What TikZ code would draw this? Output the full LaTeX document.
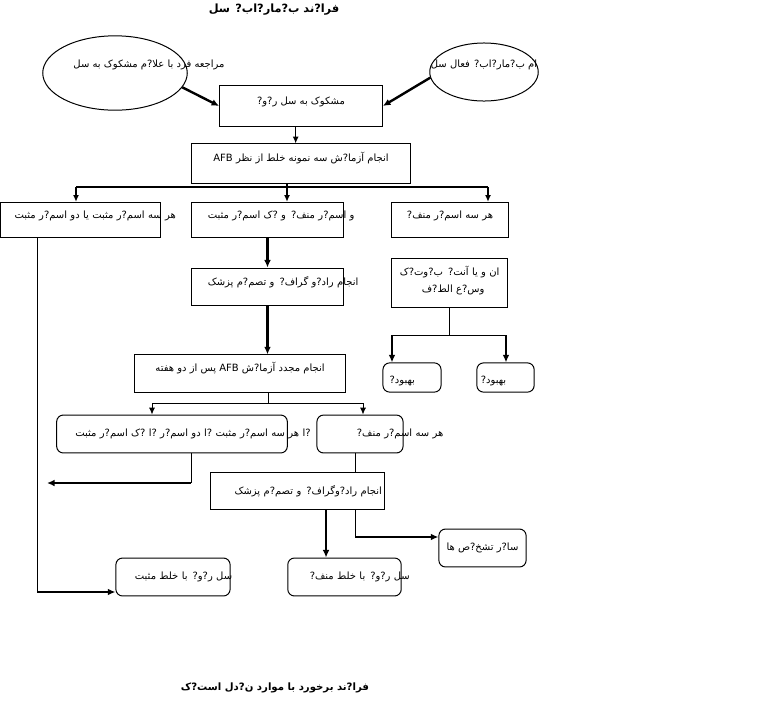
\documentclass[tikz,border=0pt]{standalone}
\usepackage{fontspec}
\usetikzlibrary{arrows.meta, positioning, calc, shapes.geometric}
\newfontfamily\pfont[Script=Arabic]{DejaVu Sans}
\TeXXeTstate=1
\newcommand{\fa}[1]{\mbox{\beginR #1\endR}}
\tikzset{
  box/.style={draw=black, line width=0.75pt, inner xsep=2pt, inner ysep=0pt, align=center, font=\pfont\fontsize{7.5}{9}\selectfont},
  rbox/.style={box, rounded corners=5pt},
  raised/.style={text height=8pt, text depth=11pt},
  oval/.style={draw=black, line width=0.75pt, ellipse, inner sep=0pt},
  ptext/.style={inner sep=0pt, font=\pfont\fontsize{7.5}{9}\selectfont},
  ttext/.style={inner sep=0pt, font=\pfont\bfseries\fontsize{8.5}{10}\selectfont},
  conn/.style={line width=0.75pt},
  fork/.style={line width=1.2pt},
  thinarrow/.style={-{Latex[length=1.8mm, width=1.6mm]}, line width=0.75pt},
  arrow/.style={-{Latex[length=1.8mm, width=1.6mm]}, line width=1.2pt},
  thickarrow/.style={-{Latex[length=2mm, width=1.8mm]}, line width=1.8pt}
}

\begin{document}
\begin{tikzpicture}[x=0.75pt, y=-0.75pt]
\useasboundingbox (0,0) rectangle (778,708);
% titles
\node[ttext] (toptitle) at (274,10) {\fa{فرا?ند ب?مار?اب? سل}};
\node[ttext, font=\pfont\bfseries\fontsize{7.6}{10}\selectfont] (bottomtitle) at (275,688) {\fa{فرا?ند برخورد با موارد ن?دل است?ک}};
% entry points
\node[oval, minimum width=3.81cm, minimum height=1.96cm] (ovalL) at (115,73) {};
\node[ptext] (ovalLtext) at (149,65) {\fa{مراجعه فرد با علا?م مشکوک به سل}};
\node[oval, minimum width=2.86cm, minimum height=1.53cm] (ovalR) at (484,72) {};
\node[ptext] (ovalRtext) at (484,65) {\fa{ام ب?مار?اب? فعال سل}};
\node[box, raised, minimum width=4.29cm, minimum height=1.06cm] (suspect) at (301,106) {\fa{مشکوک به سل ر?و?}};
\node[box, raised, minimum width=5.79cm, minimum height=1.03cm] (smeartest) at (301,163.5) {\fa{انجام آزما?ش سه نمونه خلط از نظر \beginL AFB\endL}};
% first smear results
\node[box, raised, align=left, text width=4.07cm, minimum height=0.93cm] (allpos) at (80.5,220) {\hspace*{8.5pt}\fa{هر سه اسم?ر مثبت یا دو اسم?ر مثبت}};
\node[box, raised, align=left, text width=3.85cm, minimum height=0.93cm] (onepos) at (267.5,220) {\hspace*{10pt}\fa{و اسم?ر منف? و ?ک اسم?ر مثبت}};
\node[box, raised, minimum width=3.07cm, minimum height=0.93cm] (allneg) at (450,220) {\fa{هر سه اسم?ر منف?}};
\node[box, raised, align=left, text width=3.85cm, minimum height=1.0cm] (xray) at (267.5,287) {\hspace*{10pt}\fa{انجام راد?و گراف? و تصم?م پزشک}};
\node[box, align=left, text width=2.9cm, text height=13pt, text depth=23.75pt] (antibio) at (449.5,282.5) {\hspace*{4pt}\fa{ان و یا آنت? ب?وت?ک}\\[3.5pt]\hspace*{20.5pt}\fa{وس?ع الط?ف}};
\node[rbox, align=left, text width=1.39cm, minimum height=0.77cm, text height=14pt, text depth=5pt] (cured1) at (412,377.5) {\hspace*{3pt}\fa{بهبود?}};
\node[rbox, align=left, text width=1.37cm, minimum height=0.77cm, text height=14pt, text depth=5pt] (cured2) at (505.5,377.5) {\hspace*{1pt}\fa{بهبود?}};
% second smear
\node[box, raised, minimum width=5.58cm, minimum height=0.98cm] (retest) at (240,373.5) {\fa{انجام مجدد آزما?ش \beginL AFB\endL{} پس از دو هفته}};
\node[rbox, align=left, text width=5.94cm, minimum height=1.0cm] (posagain) at (172,434) {\hspace*{12pt}\fa{?ا هر سه اسم?ر مثبت ?ا دو اسم?ر ?ا ?ک اسم?ر مثبت}};
\node[rbox, align=left, text width=2.13cm, minimum height=1.0cm] (negagain) at (360,434) {\hspace*{28pt}\fa{هر سه اسم?ر منف?}};
\node[box, align=left, text width=4.44cm, minimum height=1.0cm] (xray2) at (297.5,491) {\hspace*{16pt}\fa{انجام راد?وگراف? و تصم?م پزشک}};
\node[rbox, minimum width=2.3cm, minimum height=1.0cm] (otherdx) at (482.5,548) {\fa{سا?ر تشخ?ص ها}};
\node[rbox, align=left, text width=2.85cm, minimum height=1.0cm] (tbneg) at (344.5,577) {\hspace*{14.5pt}\fa{سل ر?و? با خلط منف?}};
\node[rbox, align=left, text width=2.87cm, minimum height=1.0cm] (tbpos) at (173,577) {\hspace*{12.25pt}\fa{سل ر?و? با خلط مثبت}};

% branch points
\coordinate (splitA) at (287,187);
\coordinate (splitAL) at (76,187);
\coordinate (splitAR) at (488,187);
\coordinate (splitB) at (449,335);
\coordinate (splitBL) at (392,335);
\coordinate (splitBR) at (506,335);
\coordinate (splitC) at (268,403);
\coordinate (splitCL) at (152,403);
\coordinate (splitCR) at (363,403);
\coordinate (downL) at (37,592);
\coordinate (turnD) at (191,483);
\coordinate (backout) at (47,483);
\coordinate (turnE) at (355,537);

\draw[thickarrow] (ovalL.-12) -- (suspect.west);
\draw[thickarrow] (ovalR.186) -- (suspect.east);
\draw[arrow] ([xshift=-4pt]suspect.south) -- ([xshift=-4pt]smeartest.north);
\draw[fork] (smeartest.south -| splitA) -- (splitA);
\draw[fork] (splitAL) -- (splitAR);
\draw[arrow] (splitAL) -- (splitAL |- allpos.north);
\draw[arrow] (splitA) -- (splitA |- onepos.north);
\draw[arrow] (splitAR) -- (splitAR |- allneg.north);
\draw[conn] (allpos.south -| downL) -- (downL);
\draw[thickarrow] (downL) -- (downL -| tbpos.west);
\draw[thickarrow] (onepos.south) -- (xray.north);
\draw[thickarrow] (xray.south) -- (xray.south |- retest.north);
\draw[conn] (antibio.south -| splitB) -- (splitB);
\draw[conn] (splitBL) -- (splitBR);
\draw[thickarrow] (splitBL) -- (splitBL |- cured1.north);
\draw[thickarrow] (splitBR) -- (splitBR |- cured2.north);
\draw[conn] (retest.south -| splitC) -- (splitC);
\draw[conn] (splitCL) -- (splitCR);
\draw[thinarrow] (splitCL) -- (splitCL |- posagain.north);
\draw[thinarrow] (splitCR) -- (splitCR |- negagain.north);
\draw[conn] (posagain.south -| turnD) -- (turnD);
\draw[thickarrow] (turnD) -- (backout);
\draw[conn] (negagain.south -| turnE) -- (xray2.north -| turnE);
\draw[conn] (xray2.south -| turnE) -- (turnE);
\draw[thickarrow] (turnE) -- (turnE -| otherdx.west);
\draw[thickarrow] ([xshift=21.4pt]xray2.south) -- ([xshift=21.4pt]xray2.south |- tbneg.north);
\end{tikzpicture}
\end{document}
